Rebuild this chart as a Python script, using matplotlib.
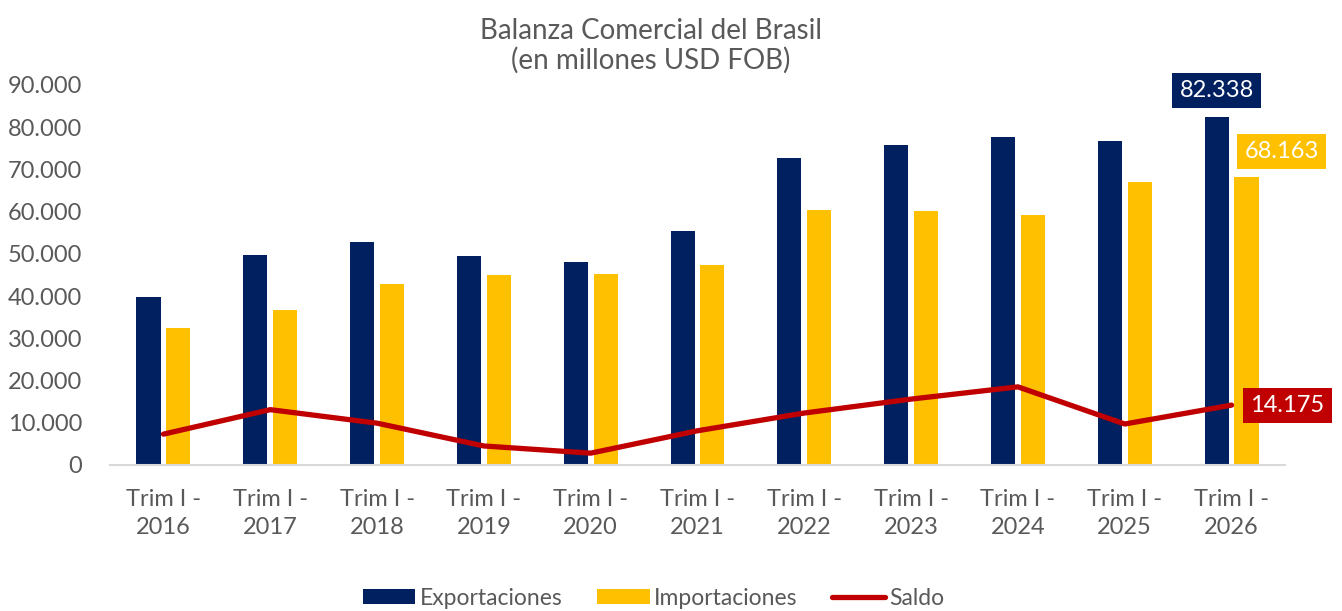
import numpy as np
import matplotlib.pyplot as plt
from matplotlib.ticker import FuncFormatter

plt.rcParams['font.family'] = ['Lato', 'DejaVu Sans']

years = ["2016", "2017", "2018", "2019", "2020", "2021", "2022", "2023", "2024", "2025", "2026"]
exportaciones = [39800, 49800, 52800, 49500, 48100, 55500, 72700, 75800, 77700, 76800, 82338]
importaciones = [32500, 36700, 42900, 45000, 45300, 47400, 60400, 60200, 59200, 67100, 68163]
saldo = [7300, 13100, 9900, 4500, 2800, 8100, 12300, 15600, 18500, 9700, 14175]

navy = "#002060"
gold = "#FFC000"
red = "#C00000"
grey = "#595959"

fig = plt.figure(figsize=(13.42, 6.11), dpi=100)
ax = fig.add_axes([0.082, 0.239, 0.8755, 0.622])

x = np.arange(len(years))
w = 0.225
b1 = ax.bar(x - 0.14, exportaciones, w, color=navy, label="Exportaciones")
b2 = ax.bar(x + 0.14, importaciones, w, color=gold, label="Importaciones")
l1, = ax.plot(x, saldo, color=red, lw=3.8, solid_capstyle="round", label="Saldo")

ax.set_xlim(-0.5, len(years) - 0.5)
ax.set_ylim(0, 90000)
ax.set_yticks(np.arange(0, 90001, 10000))
ax.yaxis.set_major_formatter(FuncFormatter(lambda v, p: f"{int(v):,}".replace(",", ".")))
ax.set_xticks(x)
ax.set_xticklabels([f"Trim I -\n{y}" for y in years], linespacing=1.45)
ax.tick_params(length=0, labelsize=17, colors=grey, pad=17)
ax.tick_params(axis="y", pad=20)
for s in ["top", "right", "left"]:
    ax.spines[s].set_visible(False)
ax.spines["bottom"].set_color("#D9D9D9")
ax.spines["bottom"].set_linewidth(1.5)

fmt = lambda v: f"{v:,}".replace(",", ".")
ax.annotate(fmt(exportaciones[-1]), (x[-1] - 0.14, exportaciones[-1]), xytext=(0, 27),
            textcoords="offset pixels", ha="center", va="center", fontsize=17, color="white",
            bbox=dict(boxstyle="square,pad=0.3", fc=navy, ec="none"))
ax.annotate(fmt(importaciones[-1]), (x[-1] + 0.14, importaciones[-1]), xytext=(35, 26),
            textcoords="offset pixels", ha="center", va="center", fontsize=17, color="white",
            bbox=dict(boxstyle="square,pad=0.3", fc=gold, ec="none"))
ax.annotate(fmt(saldo[-1]), (x[-1], saldo[-1]), xytext=(56, 0),
            textcoords="offset pixels", ha="center", va="center", fontsize=17, color="white",
            bbox=dict(boxstyle="square,pad=0.3", fc=red, ec="none"))

fig.text(0.485, 0.925, "Balanza Comercial del Brasil\n(en millones USD FOB)", ha="center", va="center",
         fontsize=20, color=grey, linespacing=1.12)

fig.legend([b1, b2, l1], ["Exportaciones", "Importaciones", "Saldo"], loc="lower center",
           bbox_to_anchor=(0.487, -0.03), ncol=3, frameon=False, fontsize=16.5,
           labelcolor=grey, handlelength=2.3, handleheight=0.6, columnspacing=1.5, handletextpad=0.2)

fig.savefig("out.png", dpi=100)
